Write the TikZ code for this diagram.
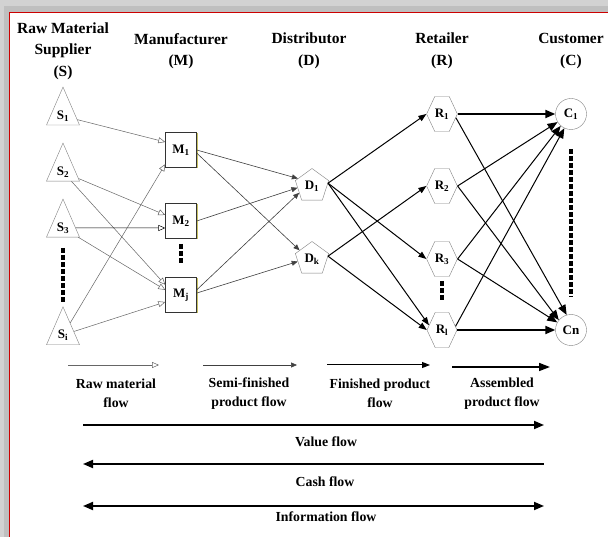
\documentclass[tikz,border=0pt]{standalone}
\usepackage{fontspec}
\setmainfont{Liberation Serif}
\usetikzlibrary{arrows.meta,shapes.geometric,shapes.symbols,shadows}

\begin{document}
\begin{tikzpicture}[x=1pt,y=-1pt,
    every node/.style={font=\fontsize{13}{15}\selectfont\bfseries},
    suppl/.style={draw=gray, isosceles triangle, shape border rotate=90, isosceles triangle stretches, minimum width=33pt, minimum height=38pt, inner sep=0pt},
    manu/.style={draw=black!80, fill=white, minimum width=31pt, minimum height=35pt, inner sep=0pt, drop shadow={shadow xshift=1pt, shadow yshift=-1pt, fill=olive!50, opacity=1}},
    dist/.style={draw=gray, regular polygon, regular polygon sides=5, minimum size=35pt, inner sep=0pt},
    retl/.style={draw=gray, signal, signal to=east and west, signal pointer angle=130, minimum width=30pt, minimum height=35pt, inner sep=0pt},
    cust/.style={draw=gray, circle, minimum size=31pt, inner sep=0pt},
    head/.style={font=\fontsize{15.5}{21.5}\selectfont\bfseries, align=center},
    flowtxt/.style={font=\fontsize{13.8}{19}\selectfont\bfseries, align=center},
    rawflow/.style={draw=black!60, line width=0.5pt, -{Triangle[open, length=7pt, width=6pt]}},
    semiflow/.style={draw=black!75, line width=0.6pt, -{Triangle[length=6pt, width=5pt]}},
    finflow/.style={line width=1pt, -{Triangle[length=8pt, width=6pt]}},
    asmflow/.style={line width=1pt, -{Triangle[length=10pt, width=8pt]}},
    asmbold/.style={line width=2pt, -{Triangle[length=10pt, width=8pt]}},
    gapline/.style={line width=3.5pt, dash pattern=on 5pt off 2pt},
    flowline/.style={line width=1.8pt}
]
    \useasboundingbox (0,0) rectangle (608,537);

    % frame
    \fill[gray!35] (0,0) rectangle (608,537);
    \fill[gray!50] (4,6) rectangle (608,537);
    \fill[white] (10,13) rectangle (608,537);
    \draw[red!80!black, line width=1.5pt] (9.5,537) -- (9.5,12.5) -- (608,12.5);

    % headings
    \node[head] (hs) at (63,51) {Raw Material\\Supplier\\(S)};
    \node[head] (hm) at (181,51) {Manufacturer\\(M)};
    \node[head] (hd) at (309,51) {Distributor\\(D)};
    \node[head] (hr) at (442,51) {Retailer\\(R)};
    \node[head] (hc) at (571,51) {Customer\\(C)};

    % stages
    \node[suppl] (s1) at (63,116) {S\textsubscript{1}};
    \node[suppl] (s2) at (63,172) {S\textsubscript{2}};
    \node[suppl] (s3) at (63,228) {S\textsubscript{3}};
    \node[suppl] (si) at (63,335) {S\textsubscript{i}};

    \node[manu] (m1) at (181,150) {M\textsubscript{1}};
    \node[manu] (m2) at (181,221) {M\textsubscript{2}};
    \node[manu] (mj) at (181,295) {M\textsubscript{j}};

    \node[dist] (d1) at (312,186) {D\textsubscript{1}};
    \node[dist] (dk) at (312,259) {D\textsubscript{k}};

    \node[retl] (r1) at (442,114) {R\textsubscript{1}};
    \node[retl] (r2) at (442,186) {R\textsubscript{2}};
    \node[retl] (r3) at (442,259) {R\textsubscript{3}};
    \node[retl] (rl) at (442,330) {R\textsubscript{l}};

    \node[cust] (c1) at (571,114) {C\textsubscript{1}};
    \node[cust] (cn) at (571,330) {Cn};

    \draw[gapline] (63,248) -- (63,302);
    \draw[gapline] (181,244) -- (181,264);
    \draw[gapline] (442,281) -- (442,301);
    \draw[gapline] (571,149) -- (571,297);

    % raw material flow
    \draw[rawflow] (s1) -- (m1.153);
    \draw[rawflow] (s2) -- (m2.159);
    \draw[rawflow] (s2) -- (mj.147);
    \draw[rawflow, draw=black] (s3) -- (s3 -| m2.west);
    \draw[rawflow] (s3) -- (mj.162);
    \draw[rawflow] (si) -- (m1.222);
    \draw[rawflow] (si) -- (mj.204);

    % semi-finished product flow
    \draw[semiflow] (m1.east) -- (d1.152);
    \draw[semiflow] (m1.-11) -- (dk.145);
    \draw[semiflow] (m2.east) -- (d1.187);
    \draw[semiflow] (mj.18) -- (d1.208);
    \draw[semiflow] (mj.7) -- (dk.190);

    % finished product flow
    \draw[finflow] (d1.10) -- (r1.west);
    \draw[finflow] (d1.10) -- (r3.west);
    \draw[finflow] (d1.10) -- (rl.160);
    \draw[finflow] (dk.10) -- (r2.west);
    \draw[finflow] (dk.10) -- (rl.west);

    % assembled product flow
    \draw[asmbold] (r1.east) -- (c1.west);
    \draw[asmflow] (r1.-15) -- (cn.106);
    \draw[asmflow] (r2.east) -- (c1.211);
    \draw[asmflow] (r2.east) -- (cn.141);
    \draw[asmflow] (r3.east) -- (c1.229);
    \draw[asmflow] (r3.east) -- (cn.151);
    \draw[asmflow] (rl.15) -- (c1.245);
    \draw[asmbold] (rl.east) -- (cn.west);

    % legend
    \coordinate (rw1) at (68,365);  \coordinate (rw2) at (159,365);
    \coordinate (sf1) at (203,365); \coordinate (sf2) at (297,365);
    \coordinate (fp1) at (327,365); \coordinate (fp2) at (430,365);
    \coordinate (ap1) at (452,367); \coordinate (ap2) at (550,367);
    \draw[rawflow] (rw1) -- (rw2);
    \draw[semiflow] (sf1) -- (sf2);
    \draw[finflow] (fp1) -- (fp2);
    \draw[line width=1.6pt, -{Triangle[length=11pt, width=8pt]}] (ap1) -- (ap2);
    \node[flowtxt] (lrw) at (116,393.5) {Raw material\\flow};
    \node[flowtxt] (lsf) at (249,393.5) {Semi-finished\\product flow};
    \node[flowtxt] (lfp) at (380,393.5) {Finished product\\flow};
    \node[flowtxt] (lap) at (502,393.5) {Assembled\\product flow};

    \coordinate (va) at (83,425);  \coordinate (vb) at (544,425);
    \coordinate (ca) at (83,464);  \coordinate (cb) at (544,464);
    \coordinate (ia) at (83,506);  \coordinate (ib) at (544,506);
    \draw[flowline, -{Triangle[length=10pt, width=8pt]}] (va) -- (vb);
    \draw[flowline, {Triangle[length=10pt, width=8pt]}-] (ca) -- (cb);
    \draw[flowline, {Triangle[length=10pt, width=8pt]}-{Triangle[length=10pt, width=8pt]}] (ia) -- (ib);
    \node[flowtxt] (lv) at (326,442) {Value flow};
    \node[flowtxt] (lc) at (325,482) {Cash flow};
    \node[flowtxt] (li) at (326,517) {Information flow};
\end{tikzpicture}
\end{document}
